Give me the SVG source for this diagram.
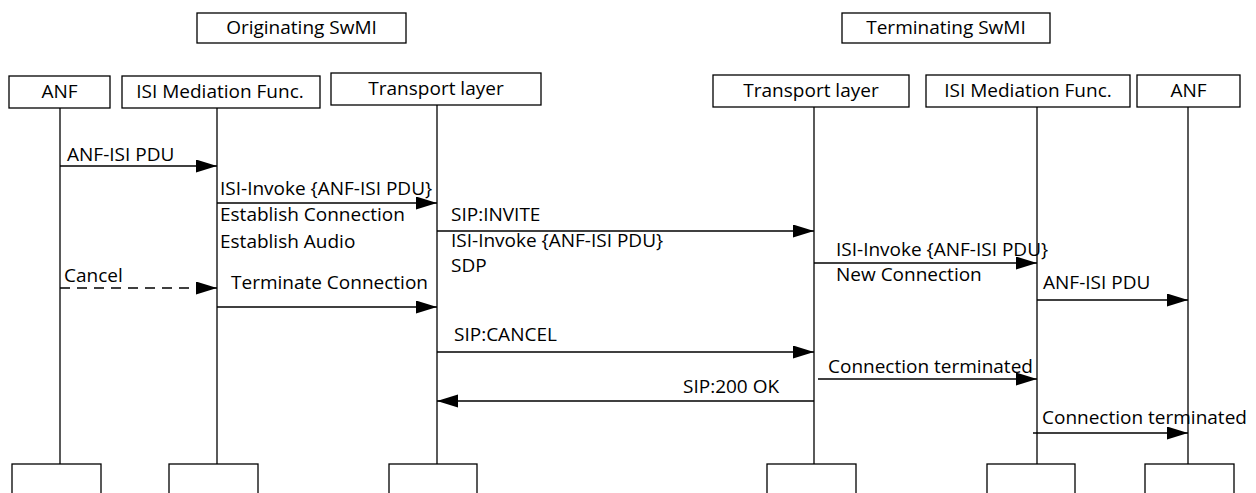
<svg xmlns="http://www.w3.org/2000/svg" width="1256" height="493" viewBox="0 0 1256 493">
<style>
  .box { fill: #ffffff; stroke: #000000; stroke-width: 1.3; }
  .life { stroke: #000000; stroke-width: 1.3; fill: none; }
  .msg { stroke: #000000; stroke-width: 1.3; fill: none; marker-end: url(#arrow); }
  .dash { stroke-dasharray: 10 7; }
  text { font-family: "Open Sans", "Noto Sans", sans-serif; font-size: 19px; fill: #000000; }
  .c { text-anchor: middle; }
</style>
<defs>
  <marker id="arrow" markerUnits="userSpaceOnUse" markerWidth="22" markerHeight="14" refX="21" refY="6.5" orient="auto">
    <path d="M0,0 L21,6.5 L0,13 Z" fill="#000000"/>
  </marker>
</defs>
<rect width="1256" height="493" fill="#ffffff"/>

<g id="orig-swmi">
  <rect class="box" x="197" y="13" width="209" height="30"/>
  <text class="c" x="301.5" y="34">Originating SwMI</text>
</g>
<g id="term-swmi">
  <rect class="box" x="842" y="13" width="208" height="30"/>
  <text class="c" x="946" y="34">Terminating SwMI</text>
</g>

<g id="anf-o">
  <rect class="box" x="9" y="76" width="101" height="32"/>
  <text class="c" x="59.5" y="98">ANF</text>
  <line class="life" x1="60" y1="108" x2="60" y2="464"/>
  <rect class="box" x="12" y="464" width="89" height="40"/>
</g>
<g id="isi-o">
  <rect class="box" x="122" y="76" width="198" height="32"/>
  <text class="c" x="220" y="98">ISI Mediation Func.</text>
  <line class="life" x1="217" y1="108" x2="217" y2="464"/>
  <rect class="box" x="169" y="464" width="89" height="40"/>
</g>
<g id="tl-o">
  <rect class="box" x="331" y="73" width="210" height="32"/>
  <text class="c" x="436" y="95">Transport layer</text>
  <line class="life" x1="437" y1="105" x2="437" y2="464"/>
  <rect class="box" x="389" y="464" width="88" height="40"/>
</g>
<g id="tl-t">
  <rect class="box" x="713" y="75" width="196" height="32"/>
  <text class="c" x="811" y="97">Transport layer</text>
  <line class="life" x1="814" y1="107" x2="814" y2="464"/>
  <rect class="box" x="767" y="464" width="89" height="40"/>
</g>
<g id="isi-t">
  <rect class="box" x="926" y="75" width="204" height="32"/>
  <text class="c" x="1028" y="97">ISI Mediation Func.</text>
  <line class="life" x1="1037" y1="107" x2="1037" y2="464"/>
  <rect class="box" x="987" y="464" width="88" height="40"/>
</g>
<g id="anf-t">
  <rect class="box" x="1137" y="75" width="103" height="32"/>
  <text class="c" x="1188.5" y="97">ANF</text>
  <line class="life" x1="1188" y1="107" x2="1188" y2="464"/>
  <rect class="box" x="1145" y="464" width="89" height="40"/>
</g>

<g id="connectors">
  <line class="msg" x1="60" y1="166" x2="217" y2="166"/>
  <text x="67" y="161">ANF-ISI PDU</text>

  <line class="msg" x1="217" y1="203" x2="437" y2="203"/>
  <text x="220" y="195">ISI-Invoke {ANF-ISI PDU}</text>
  <text x="220" y="221">Establish Connection</text>
  <text x="220" y="248">Establish Audio</text>

  <line class="msg" x1="437" y1="231" x2="814" y2="231"/>
  <text x="451" y="221">SIP:INVITE</text>
  <text x="451" y="247">ISI-Invoke {ANF-ISI PDU}</text>
  <text x="451" y="272">SDP</text>

  <line class="msg" x1="814" y1="263" x2="1037" y2="263"/>
  <text x="836" y="256">ISI-Invoke {ANF-ISI PDU}</text>
  <text x="836" y="281">New Connection</text>

  <line class="msg dash" x1="60" y1="288" x2="217" y2="288"/>
  <text x="64" y="282">Cancel</text>

  <line class="msg" x1="217" y1="307" x2="437" y2="307"/>
  <text x="231" y="289">Terminate Connection</text>

  <line class="msg" x1="1037" y1="300" x2="1188" y2="300"/>
  <text x="1043" y="289">ANF-ISI PDU</text>

  <line class="msg" x1="437" y1="352" x2="814" y2="352"/>
  <text x="454" y="341">SIP:CANCEL</text>

  <line class="msg" x1="818" y1="379" x2="1037" y2="379"/>
  <text x="828" y="373">Connection terminated</text>

  <line class="msg" x1="814" y1="401" x2="437" y2="401"/>
  <text x="683" y="393">SIP:200 OK</text>

  <line class="msg" x1="1033" y1="433" x2="1188" y2="433"/>
  <text x="1042" y="424">Connection terminated</text>
</g>
</svg>
